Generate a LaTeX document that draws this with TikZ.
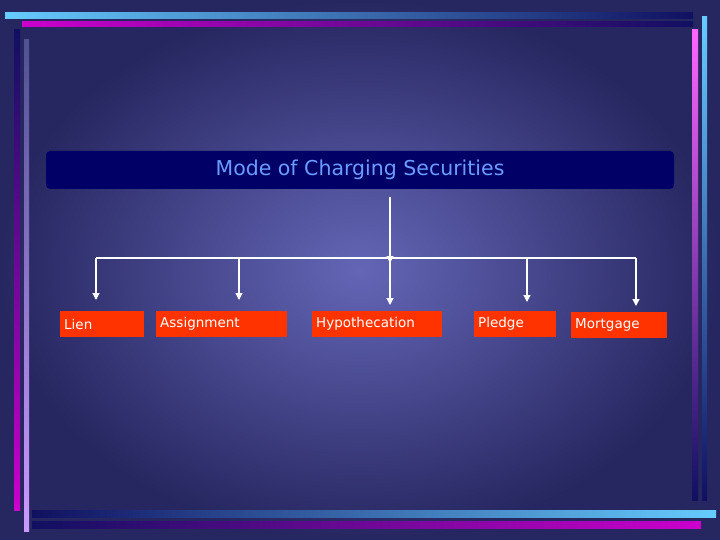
\documentclass[tikz,border=0pt]{standalone}
\usepackage{fontspec}
\setmainfont{DejaVu Sans}
\usetikzlibrary{arrows.meta}
\definecolor{slidebg}{HTML}{6466B6}
\definecolor{slideedge}{HTML}{262660}
\definecolor{titlenavy}{HTML}{000066}
\definecolor{titletext}{HTML}{6C9CFF}
\definecolor{boxred}{HTML}{FF3300}
\definecolor{barcyan}{HTML}{66CCFF}
\definecolor{barmag}{HTML}{CC00CC}
\definecolor{barpink}{HTML}{FF66FF}
\definecolor{barlav}{HTML}{CC99FF}
\definecolor{bardark}{HTML}{101060}
\tikzstyle{kindbox} = [fill=boxred, text=white, anchor=north west, inner sep=0pt, inner xsep=4pt, align=left, minimum height=26pt, font=\fontsize{13.5}{15}\selectfont]
\tikzstyle{link} = [draw=white, line width=1.2pt, -{Triangle[length=7pt,width=7pt]}]

\begin{document}
\begin{tikzpicture}[x=1pt, y=-1pt]
\useasboundingbox (0,0) rectangle (720,540);
\shade[inner color=slidebg, outer color=slideedge] (0,0) rectangle (720,540);
% frame bars
\shade[left color=barcyan, right color=bardark] (5,13) rectangle (693,19);
\shade[left color=barmag, right color=bardark] (22,22) rectangle (693,27);
\shade[top color=bardark, bottom color=barmag] (14,30) rectangle (20,510);
\shade[top color=slidebg!80!black, bottom color=barlav] (24,40) rectangle (29,531);
\shade[top color=barpink, bottom color=bardark] (692,30) rectangle (698,500);
\shade[top color=barcyan, bottom color=bardark] (702,17) rectangle (707,500);
\shade[left color=bardark, right color=barcyan] (32,510) rectangle (716,517);
\shade[left color=bardark, right color=barmag] (32,521) rectangle (701,528);

% title
\node[fill=titlenavy, rounded corners=4pt, minimum width=628pt, minimum height=38pt,
  text=titletext, font=\fontsize{20.5}{24}\selectfont] (title) at (360,170) {Mode of Charging Securities};

% kinds
\node[kindbox, text width=76pt] (lien) at (60,311) {Lien};
\node[kindbox, text width=123pt] (assign) at (156,311) {Assignment};
\node[kindbox, text width=122pt] (hypo) at (312,311) {Hypothecation};
\node[kindbox, text width=74pt] (pledge) at (474,311) {Pledge};
\node[kindbox, text width=88pt] (mort) at (571,312) {Mortgage};

% connectors
\coordinate (stem) at (390,197);
\coordinate (bus) at (390,258);
\coordinate (busl) at (96,258);
\coordinate (busr) at (636,258);
\coordinate (lienend) at (96,300);
\coordinate (assignbus) at (239,258);
\coordinate (assignend) at (239,300);
\coordinate (hypoend) at (390,305);
\coordinate (pledgebus) at (527,258);
\coordinate (pledgeend) at (527,302);
\coordinate (mortend) at (636,306);
\draw[link] (stem) -- ([yshift=-5pt]bus);
\draw[draw=white, line width=1.2pt] (busl) -- (busr);
\draw[link] (busl) -- (lienend);
\draw[link] (assignbus) -- (assignend);
\draw[link] (bus) -- (hypoend);
\draw[link] (pledgebus) -- (pledgeend);
\draw[link] (busr) -- (mortend);
\end{tikzpicture}
\end{document}
